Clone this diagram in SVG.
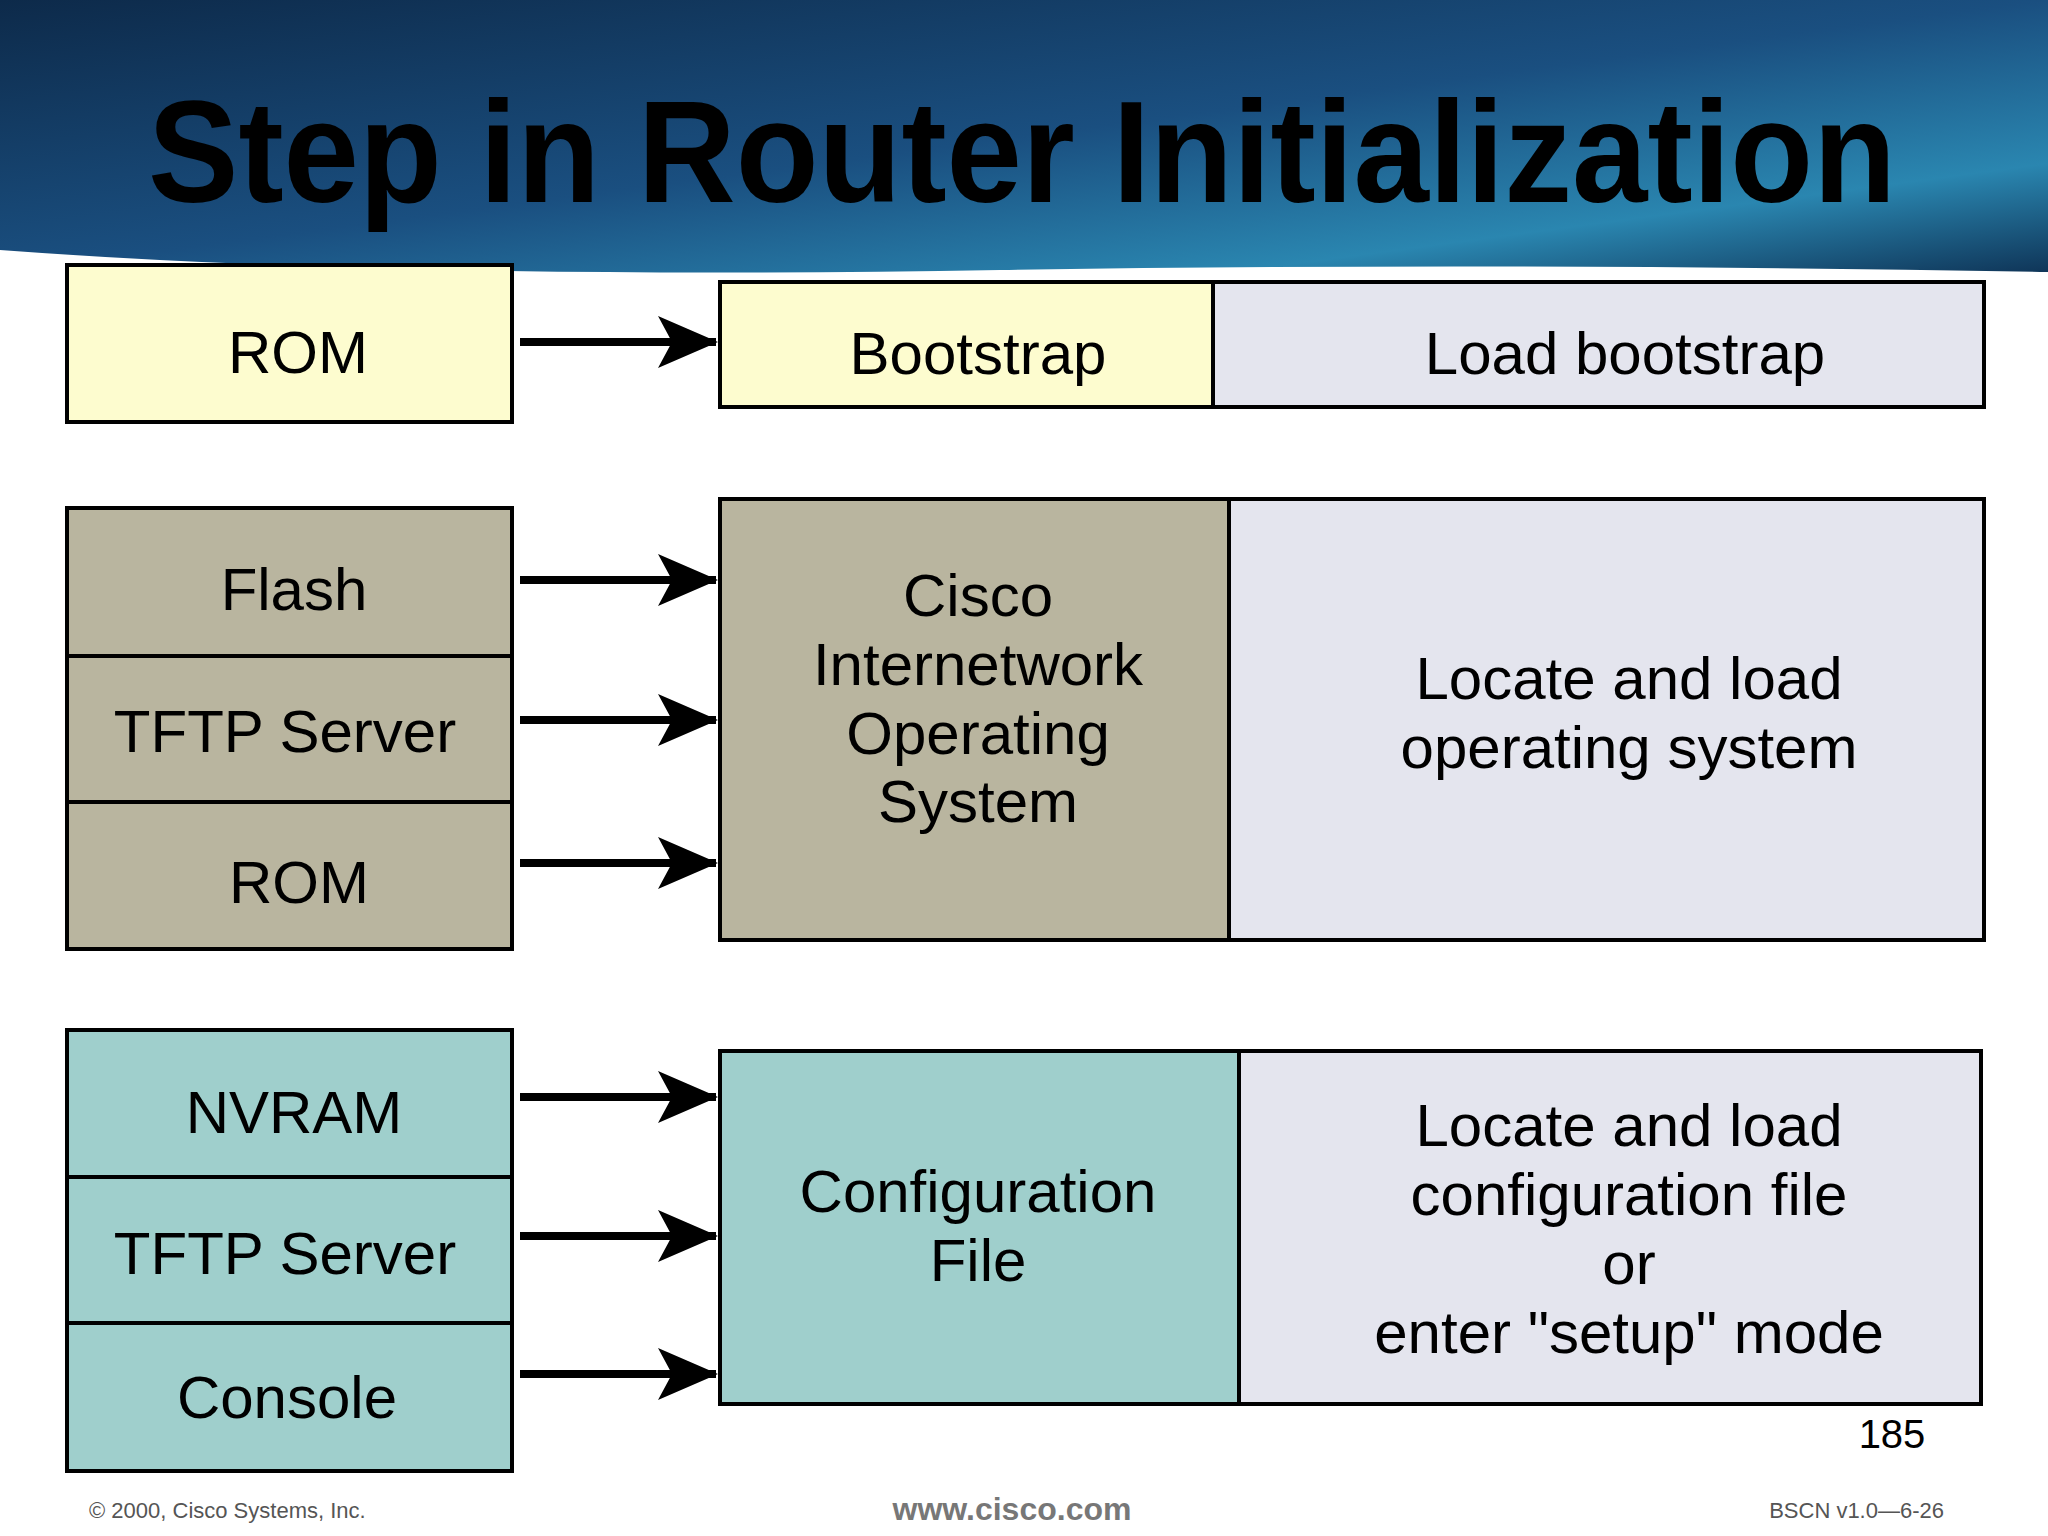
<svg xmlns="http://www.w3.org/2000/svg" width="2048" height="1536" viewBox="0 0 2048 1536">
<defs>
<linearGradient id="sky" x1="0" y1="0" x2="1" y2="1">
<stop offset="0" stop-color="#0d2a4a"/><stop offset="0.5" stop-color="#1a4f80"/><stop offset="0.8" stop-color="#2a86b0"/><stop offset="1" stop-color="#0f3558"/>
</linearGradient>
<marker id="ah" viewBox="0 0 60 52" refX="58" refY="26" markerWidth="60" markerHeight="52" markerUnits="userSpaceOnUse" orient="auto"><path d="M0,0 L60,26 L0,52 L14,26 Z" fill="#000"/></marker>
</defs>
<style>
.b{stroke:#000;stroke-width:4}
.y{fill:#fdfccf}.t{fill:#b9b59f}.c{fill:#9fcfcc}.g{fill:#e4e5ee}
text{font-family:"Liberation Sans",Arial,sans-serif;fill:#000;text-anchor:middle}
.l{font-size:60px}
.a{stroke:#000;stroke-width:8;fill:none}
</style>
<rect width="2048" height="1536" fill="#fff"/>
<path d="M0,0 H2048 V272 Q1500,262 1000,270 Q400,280 0,250 Z" fill="url(#sky)"/>
<text x="1022" y="202" font-size="144" font-weight="bold" textLength="1748" lengthAdjust="spacingAndGlyphs">Step in Router Initialization</text>
<g id="rom1"><rect class="b y" x="67" y="265" width="445" height="157"/><text class="l" x="298" y="373">ROM</text></g>
<g id="bootstrap"><rect class="b y" x="720" y="282" width="493" height="125"/><text class="l" x="978" y="374">Bootstrap</text></g>
<g id="loadboot"><rect class="b g" x="1213" y="282" width="771" height="125"/><text class="l" x="1625" y="374">Load bootstrap</text></g>
<g id="flash"><rect class="b t" x="67" y="508" width="445" height="148"/><text class="l" x="294" y="610">Flash</text></g>
<g id="tftp1"><rect class="b t" x="67" y="656" width="445" height="146"/><text class="l" x="285" y="752">TFTP Server</text></g>
<g id="rom2"><rect class="b t" x="67" y="802" width="445" height="147"/><text class="l" x="299" y="903">ROM</text></g>
<g id="cios"><rect class="b t" x="720" y="499" width="509" height="441"/><text class="l" x="978" y="616">Cisco</text><text class="l" x="978" y="685">Internetwork</text><text class="l" x="978" y="754">Operating</text><text class="l" x="978" y="822">System</text></g>
<g id="locos"><rect class="b g" x="1229" y="499" width="755" height="441"/><text class="l" x="1629" y="699">Locate and load</text><text class="l" x="1629" y="768">operating system</text></g>
<g id="nvram"><rect class="b c" x="67" y="1030" width="445" height="147"/><text class="l" x="294" y="1133">NVRAM</text></g>
<g id="tftp2"><rect class="b c" x="67" y="1177" width="445" height="146"/><text class="l" x="285" y="1274">TFTP Server</text></g>
<g id="console"><rect class="b c" x="67" y="1323" width="445" height="148"/><text class="l" x="287" y="1418">Console</text></g>
<g id="config"><rect class="b c" x="720" y="1051" width="519" height="353"/><text class="l" x="978" y="1212">Configuration</text><text class="l" x="978" y="1281">File</text></g>
<g id="locconf"><rect class="b g" x="1239" y="1051" width="742" height="353"/><text class="l" x="1629" y="1146">Locate and load</text><text class="l" x="1629" y="1215">configuration file</text><text class="l" x="1629" y="1284">or</text><text class="l" x="1629" y="1353">enter "setup" mode</text></g>
<g id="connectors">
<line class="a" x1="520" y1="342" x2="716" y2="342" marker-end="url(#ah)"/>
<line class="a" x1="520" y1="580" x2="716" y2="580" marker-end="url(#ah)"/>
<line class="a" x1="520" y1="720" x2="716" y2="720" marker-end="url(#ah)"/>
<line class="a" x1="520" y1="863" x2="716" y2="863" marker-end="url(#ah)"/>
<line class="a" x1="520" y1="1097" x2="716" y2="1097" marker-end="url(#ah)"/>
<line class="a" x1="520" y1="1236" x2="716" y2="1236" marker-end="url(#ah)"/>
<line class="a" x1="520" y1="1374" x2="716" y2="1374" marker-end="url(#ah)"/>
</g>
<text x="1892" y="1448" font-size="40">185</text>
<text x="89" y="1518" font-size="22" style="text-anchor:start;fill:#555">© 2000, Cisco Systems, Inc.</text>
<text x="1012" y="1520" font-size="32" font-weight="bold" style="fill:#777">www.cisco.com</text>
<text x="1944" y="1518" font-size="22" style="text-anchor:end;fill:#555">BSCN v1.0—6-26</text>
</svg>
